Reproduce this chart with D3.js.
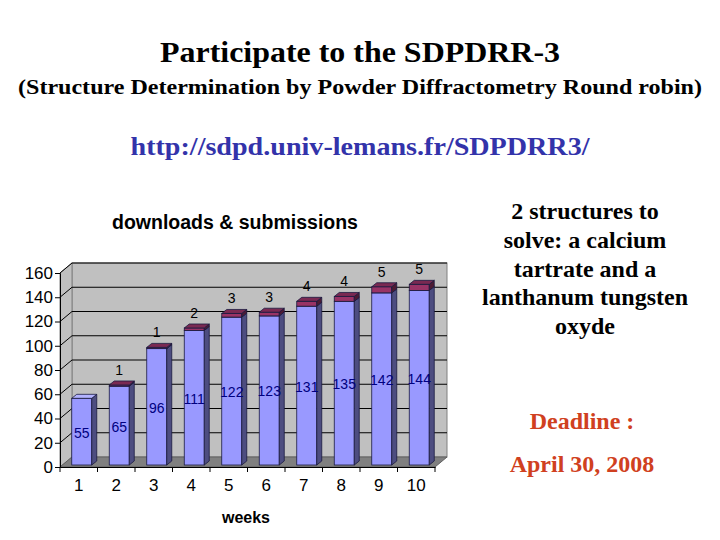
<!DOCTYPE html>
<html>
<head>
<meta charset="utf-8">
<script src="https://cdn.jsdelivr.net/npm/d3@7"></script>
<style>
  body { margin: 0; background: #fff; }
  svg { display: block; }
</style>
</head>
<body>
<script>
const weeks = ["1", "2", "3", "4", "5", "6", "7", "8", "9", "10"];
const downloads = [55, 65, 96, 111, 122, 123, 131, 135, 142, 144];
const submissions = [0, 1, 1, 2, 3, 3, 4, 4, 5, 5];
const yTicks = [0, 20, 40, 60, 80, 100, 120, 140, 160];
const sideText = ["2 structures to", "solve: a calcium", "tartrate and a", "lanthanum tungsten", "oxyde"];

const width = 720;
const height = 540;
const depth = { dx: 12, dy: -10 };
const barDepth = { dx: 5, dy: -4 };

const svg = d3.select("body")
    .append("svg")
    .attr("width", width)
    .attr("height", height);

// page headings
const serif = "'Liberation Serif', 'Times New Roman', serif";
svg.append("text")
    .attr("x", 360).attr("y", 62)
    .attr("text-anchor", "middle")
    .attr("textLength", 400).attr("lengthAdjust", "spacingAndGlyphs")
    .style("font-family", serif).style("font-weight", "bold").style("font-size", "29px")
    .text("Participate to the SDPDRR-3");
svg.append("text")
    .attr("x", 360).attr("y", 94)
    .attr("text-anchor", "middle")
    .attr("textLength", 684).attr("lengthAdjust", "spacingAndGlyphs")
    .style("font-family", serif).style("font-weight", "bold").style("font-size", "21px")
    .text("(Structure Determination by Powder Diffractometry Round robin)");
svg.append("text")
    .attr("x", 360).attr("y", 155)
    .attr("text-anchor", "middle")
    .attr("textLength", 459).attr("lengthAdjust", "spacingAndGlyphs")
    .style("font-family", serif).style("font-weight", "bold").style("font-size", "25px")
    .style("fill", "#3333aa")
    .text("http://sdpd.univ-lemans.fr/SDPDRR3/");

svg.append("g")
    .selectAll("text")
    .data(sideText)
    .enter()
    .append("text")
    .attr("x", 585)
    .attr("y", (d, i) => 219 + i * 28.8)
    .attr("text-anchor", "middle")
    .style("font-family", serif).style("font-weight", "bold").style("font-size", "24px")
    .text(d => d);

svg.append("text")
    .attr("x", 582).attr("y", 429)
    .attr("text-anchor", "middle")
    .style("font-family", serif).style("font-weight", "bold").style("font-size", "24px")
    .style("fill", "#d04020")
    .text("Deadline :");
svg.append("text")
    .attr("x", 582).attr("y", 472)
    .attr("text-anchor", "middle")
    .style("font-family", serif).style("font-weight", "bold").style("font-size", "24px")
    .style("fill", "#d04020")
    .text("April 30, 2008");

// chart
const sans = "Arial, 'Liberation Sans', sans-serif";
const x = d3.scaleBand().domain(weeks).range([60, 435]);
const y = d3.scaleLinear().domain([0, 160]).range([467, 273]);

const chart = svg.append("g");

// back wall
chart.append("rect")
    .attr("x", x.range()[0] + depth.dx)
    .attr("y", y(160) + depth.dy)
    .attr("width", x.range()[1] - x.range()[0])
    .attr("height", y(0) - y(160))
    .style("fill", "#c0c0c0")
    .style("stroke", "#808080");

// left wall
const pts = p => p.map(q => q.join(",")).join(" ");
chart.append("polygon")
    .attr("points", pts([[60, y(0)], [60, y(160)], [60 + depth.dx, y(160) + depth.dy], [60 + depth.dx, y(0) + depth.dy]]))
    .style("fill", "#c0c0c0")
    .style("stroke", "#808080");

// gridlines
chart.selectAll(".grid")
    .data(yTicks.filter(t => t > 0))
    .enter()
    .append("polyline")
    .attr("points", t => pts([[60, y(t)], [60 + depth.dx, y(t) + depth.dy], [x.range()[1] + depth.dx, y(t) + depth.dy]]))
    .style("fill", "none")
    .style("stroke", "#000")
    .style("stroke-width", 1);

// floor
chart.append("polygon")
    .attr("points", pts([[60, y(0)], [435, y(0)], [435 + depth.dx, y(0) + depth.dy], [60 + depth.dx, y(0) + depth.dy]]))
    .style("fill", "#808080")
    .style("stroke", "#606060");

// bars
const faceW = 20;
const rows = weeks.map((w, i) => ({ week: w, dl: downloads[i], sub: submissions[i] }));

function drawBox(g, x0, yTop, yBot, colors, withTop) {
    const bd = barDepth;
    g.append("rect")
        .attr("x", x0).attr("y", yTop)
        .attr("width", faceW).attr("height", yBot - yTop)
        .style("fill", colors[0]).style("stroke", "#1a1a40").style("stroke-width", 0.8);
    g.append("polygon")
        .attr("points", pts([[x0 + faceW, yBot], [x0 + faceW, yTop], [x0 + faceW + bd.dx, yTop + bd.dy], [x0 + faceW + bd.dx, yBot + bd.dy]]))
        .style("fill", colors[1]).style("stroke", "#1a1a40").style("stroke-width", 0.8);
    if (withTop) {
        g.append("polygon")
            .attr("points", pts([[x0, yTop], [x0 + faceW, yTop], [x0 + faceW + bd.dx, yTop + bd.dy], [x0 + bd.dx, yTop + bd.dy]]))
            .style("fill", colors[2]).style("stroke", "#1a1a40").style("stroke-width", 0.8);
    }
}

const bars = chart.selectAll(".bar")
    .data(rows)
    .enter()
    .append("g")
    .attr("class", "bar");

bars.each(function (d) {
    const g = d3.select(this);
    const x0 = x(d.week) + (x.bandwidth() - faceW) / 2 + 3;
    const base = y(0) - 2;
    drawBox(g, x0, y(d.dl) - 2, base, ["#9999ff", "#4d4d80", "#b3b3ff"], true);
    if (d.sub > 0) {
        drawBox(g, x0, y(d.dl + d.sub) - 2, y(d.dl) - 2, ["#993366", "#4d1a33", "#7a2952"], true);
    }
});

// value labels
bars.append("text")
    .attr("x", d => x(d.week) + x.bandwidth() / 2 + 3)
    .attr("y", d => (y(d.dl) + y(0)) / 2 + 4)
    .attr("text-anchor", "middle")
    .style("font-family", sans).style("font-size", "14px")
    .style("fill", "#000080")
    .text(d => d.dl);

bars.filter(d => d.sub > 0)
    .append("text")
    .attr("x", d => x(d.week) + x.bandwidth() / 2 + 3)
    .attr("y", d => y(d.dl + d.sub) - 12)
    .attr("text-anchor", "middle")
    .style("font-family", sans).style("font-size", "14px")
    .style("fill", "#000")
    .text(d => d.sub);

// y axis
const yAxis = chart.append("g")
    .attr("transform", "translate(60,0)")
    .call(d3.axisLeft(y).tickValues(yTicks).tickSize(5).tickPadding(2));
yAxis.selectAll("text").style("font-family", sans).style("font-size", "17px").style("fill", "#000");
yAxis.selectAll("line, path").style("stroke", "#000");

// x axis
const xAxis = chart.append("g")
    .attr("transform", `translate(0,${y(0)})`)
    .call(d3.axisBottom(x).tickSize(0).tickPadding(12));
xAxis.selectAll("text").style("font-family", sans).style("font-size", "17px").style("fill", "#000");
xAxis.select("path").style("stroke", "#000");
xAxis.selectAll(".bnd")
    .data(weeks.map(w => x(w)).concat([x.range()[1]]))
    .enter()
    .append("line")
    .attr("x1", d => d).attr("x2", d => d)
    .attr("y1", 0).attr("y2", 5)
    .style("stroke", "#000");

// chart titles
svg.append("text")
    .attr("x", 235).attr("y", 229)
    .attr("text-anchor", "middle")
    .style("font-family", sans).style("font-weight", "bold").style("font-size", "19.5px")
    .text("downloads & submissions");
svg.append("text")
    .attr("x", 246).attr("y", 523)
    .attr("text-anchor", "middle")
    .style("font-family", sans).style("font-weight", "bold").style("font-size", "16px")
    .text("weeks");
</script>
</body>
</html>
